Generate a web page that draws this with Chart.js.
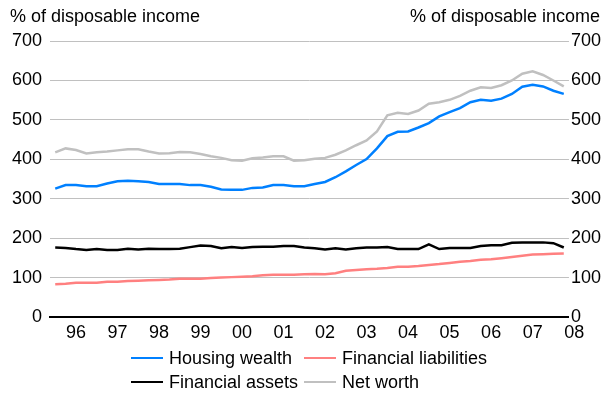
<!DOCTYPE html>
<html>
<head>
<meta charset="utf-8">
<script src="https://cdn.jsdelivr.net/npm/chart.js@4/dist/chart.umd.min.js"></script>
<style>
  body { margin: 0; background: #fff; }
  #wrap { position: relative; width: 603px; height: 399px; }
  #legend {
    position: absolute; left: 131px; top: 346px;
    display: grid; grid-template-columns: 173px auto;
    font: 18px "Liberation Sans", Arial, sans-serif;
    color: #000;
  }
  #legend div { height: 24px; display: flex; align-items: center; white-space: nowrap; }
  #legend span.swatch { display: inline-block; width: 32px; height: 2.5px; margin-right: 6px; }
</style>
</head>
<body>
<div id="wrap">
  <canvas id="myChart" width="603" height="399"></canvas>
  <div id="legend"></div>
</div>
<script>
// quarters 1995Q3 .. 2007Q4
const quarters = [
  "1995Q3","1995Q4",
  "1996Q1","1996Q2","1996Q3","1996Q4",
  "1997Q1","1997Q2","1997Q3","1997Q4",
  "1998Q1","1998Q2","1998Q3","1998Q4",
  "1999Q1","1999Q2","1999Q3","1999Q4",
  "2000Q1","2000Q2","2000Q3","2000Q4",
  "2001Q1","2001Q2","2001Q3","2001Q4",
  "2002Q1","2002Q2","2002Q3","2002Q4",
  "2003Q1","2003Q2","2003Q3","2003Q4",
  "2004Q1","2004Q2","2004Q3","2004Q4",
  "2005Q1","2005Q2","2005Q3","2005Q4",
  "2006Q1","2006Q2","2006Q3","2006Q4",
  "2007Q1","2007Q2","2007Q3","2007Q4"
]

const housingWealth = [
  326,335,335,332,332,339,345,346,345,343,
  338,338,338,335,335,331,324,323,323,328,
  329,335,335,332,332,338,343,355,370,386,
  401,428,459,470,471,481,492,509,520,530,
  545,551,549,554,566,584,589,585,574,566
]

const financialLiabilities = [
  84,85,88,88,88,90,90,92,93,94,
  95,96,98,98,98,100,101,102,103,104,
  107,108,108,108,109,110,109,112,118,120,
  122,123,125,128,128,130,133,135,138,141,
  143,146,147,150,153,156,159,160,161,162
]

const financialAssets = [
  177,176,173,171,173,171,171,174,172,174,
  173,173,174,178,182,181,175,178,176,178,
  179,179,181,181,177,175,172,175,172,175,
  177,177,178,173,173,173,185,173,176,176,
  176,181,183,183,189,190,190,190,188,177
]

const netWorth = [
  418,428,424,415,418,420,423,426,426,420,
  415,416,419,418,414,408,404,398,397,403,
  405,408,408,397,398,402,404,412,423,436,
  448,471,512,518,515,524,541,545,551,561,
  574,583,581,588,600,617,623,614,600,585
]

const yearLabels = ["96","97","98","99","00","01","02","03","04","05","06","07","08"]
const yTicks = [0,100,200,300,400,500,600,700]
const unitLabel = "% of disposable income"

const FONT = '"Liberation Sans", Arial, sans-serif'

function quarterToX(q) {
  return parseInt(q.slice(0, 4)) + (parseInt(q.slice(5)) - 1) / 4
}

function series(values) {
  return values.map((v, i) => ({x: quarterToX(quarters[i]), y: v}))
}

const data = {
  datasets: [
    {label: "Housing wealth", data: series(housingWealth), borderColor: 'rgb(0, 128, 255)'},
    {label: "Financial liabilities", data: series(financialLiabilities), borderColor: 'rgb(255, 128, 128)'},
    {label: "Financial assets", data: series(financialAssets), borderColor: '#000000'},
    {label: "Net worth", data: series(netWorth), borderColor: 'rgb(192, 192, 192)'}
  ]
}

// unit labels above both y axes
const unitTitles = {
  id: 'unitTitles',
  afterDraw(chart) {
    const ctx = chart.ctx
    ctx.save()
    ctx.font = '18px ' + FONT
    ctx.fillStyle = '#000'
    ctx.textBaseline = 'alphabetic'
    ctx.textAlign = 'left'
    ctx.fillText(unitLabel, 10, 22)
    ctx.textAlign = 'right'
    ctx.fillText(unitLabel, 600, 22)
    ctx.restore()
  }
}

const yearTickValues = yearLabels.map((l, k) => 1996 + k)

const config = {
  type: 'line',
  data: data,
  plugins: [unitTitles],
  options: {
    responsive: false,
    animation: false,
    layout: {padding: {top: 41, left: 4, right: 0, bottom: 50}},
    elements: {
      line: {borderWidth: 2.5, tension: 0},
      point: {radius: 0}
    },
    plugins: {
      legend: {display: false},
      tooltip: {enabled: false}
    },
    scales: {
      x: {
        type: 'linear',
        min: 1995.375,
        max: 2007.875,
        afterBuildTicks: (scale) => {
          scale.ticks = yearTickValues.map(v => ({value: v}))
        },
        ticks: {
          autoSkip: false,
          maxRotation: 0,
          padding: 5,
          color: '#000',
          font: {family: FONT, size: 18},
          callback: (value, index) => yearLabels[index]
        },
        grid: {drawOnChartArea: false, drawTicks: false},
        border: {display: true, color: '#000', width: 2}
      },
      y: {
        position: 'left',
        min: 0,
        max: 700,
        afterBuildTicks: (scale) => {
          scale.ticks = yTicks.map(v => ({value: v}))
        },
        ticks: {
          padding: 8,
          color: '#000',
          font: {family: FONT, size: 18}
        },
        grid: {color: 'rgb(192, 192, 192)', lineWidth: 1, drawTicks: false},
        border: {display: false}
      },
      y1: {
        position: 'right',
        min: 0,
        max: 700,
        afterBuildTicks: (scale) => {
          scale.ticks = yTicks.map(v => ({value: v}))
        },
        ticks: {
          padding: 2,
          color: '#000',
          font: {family: FONT, size: 18}
        },
        grid: {drawOnChartArea: false, drawTicks: false},
        border: {display: false}
      }
    }
  }
}

const myChart = new Chart(document.getElementById("myChart"), config)

// two-column legend under the plot
const legendBox = document.getElementById("legend")
myChart.data.datasets.forEach(ds => {
  const item = document.createElement("div")
  const swatch = document.createElement("span")
  swatch.className = "swatch"
  swatch.style.background = ds.borderColor
  item.appendChild(swatch)
  item.appendChild(document.createTextNode(ds.label))
  legendBox.appendChild(item)
})
</script>
</body>
</html>
